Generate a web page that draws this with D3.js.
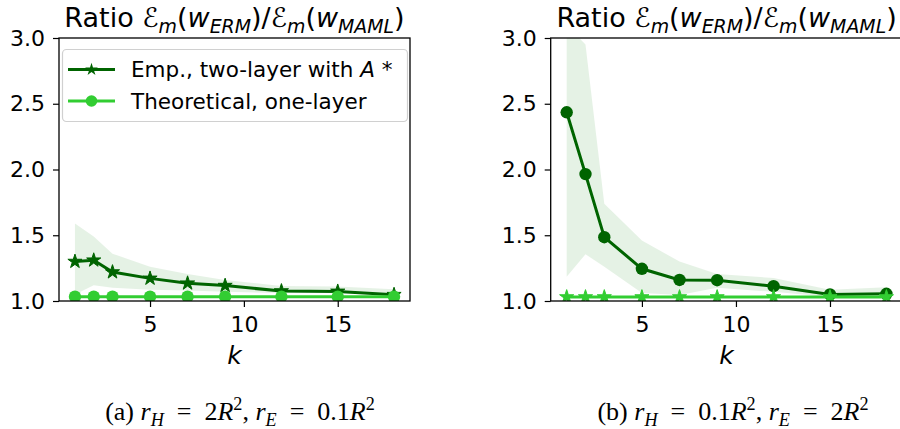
<!DOCTYPE html>
<html>
<head>
<meta charset="utf-8">
<script src="https://cdn.jsdelivr.net/npm/d3@7"></script>
<style>
  body { margin: 0; background: #fff; }
  svg { display: block; font-family: "DejaVu Sans", sans-serif; }
</style>
</head>
<body>
<svg id="chart" width="900" height="429"></svg>
<script>
// k values shared by both panels
const kVals = [1, 2, 3, 5, 7, 9, 12, 15, 18];

// panel (a): r_H = 2R^2, r_E = 0.1R^2
const empA = [1.30, 1.31, 1.22, 1.172, 1.135, 1.117, 1.076, 1.073, 1.048];
const upperA = [1.59, 1.49, 1.36, 1.26, 1.205, 1.16, 1.115, 1.11, 1.09];
const lowerA = [1.05, 1.12, 1.10, 1.085, 1.08, 1.07, 1.06, 1.06, 1.045];
const theoryA = [1.033, 1.033, 1.033, 1.033, 1.033, 1.033, 1.033, 1.033, 1.033];

// panel (b): r_H = 0.1R^2, r_E = 2R^2
const empB = [2.435, 1.965, 1.485, 1.245, 1.16, 1.158, 1.113, 1.05, 1.055];
const upperB = [3.1, 2.95, 1.74, 1.46, 1.30, 1.205, 1.175, 1.085, 1.105];
const lowerB = [1.185, 1.355, 1.26, 1.06, 1.045, 1.10, 1.07, 1.03, 1.03];
const theoryB = [1.03, 1.03, 1.03, 1.03, 1.03, 1.03, 1.03, 1.03, 1.03];

const xTicks = [5, 10, 15];
const yTicks = [1.0, 1.5, 2.0, 2.5, 3.0];
const legendLabels = ['Emp., two-layer with ', 'Theoretical, one-layer'];

const DARK = '#006400';
const LIME = '#32cd32';

const svg = d3.select('#chart');

// draws a run of text pieces: [text, kind] with kind n | i | sub | sup
function mathText(g, x, y, parts, size, family, anchor) {
  const t = g.append('text')
    .attr('x', x).attr('y', y)
    .attr('font-size', size)
    .attr('font-family', family)
    .attr('text-anchor', anchor || 'middle')
    .attr('fill', '#000')
    .style('white-space', 'pre');
  let shift = 0;
  for (const [s, kind] of parts) {
    const target = kind === 'sub' ? size * 0.22 : kind === 'sup' ? -size * 0.38 : 0;
    const sp = t.append('tspan')
      .attr('dy', target - shift)
      .text(s);
    shift = target;
    if (kind !== 'n') sp.attr('font-style', 'italic');
    if (kind === 'sup') sp.attr('font-style', null);
    if (kind === 'sub' || kind === 'sup') sp.attr('font-size', size * 0.7);
  }
  return t;
}

const titleParts = [
  ['Ratio ', 'n'], ['ℰ', 'i'], ['m', 'sub'], ['(', 'n'], ['w', 'i'], ['ERM', 'sub'],
  [')/', 'n'], ['ℰ', 'i'], ['m', 'sub'], ['(', 'n'], ['w', 'i'], ['MAML', 'sub'], [')', 'n']
];

const EQ = '\u2002=\u2002';

function panel(opts) {
  const { left, right, top, bottom, emp, upper, lower, theory, empStar, caption, legend } = opts;
  const g = svg.append('g');
  const x = d3.scaleLinear().domain([0.15, 18.85]).range([left, right]);
  const y = d3.scaleLinear().domain([1.0, 3.0]).range([bottom, top]);

  const clipId = 'clip' + Math.round(left);
  g.append('clipPath').attr('id', clipId)
    .append('rect')
    .attr('x', left).attr('y', top)
    .attr('width', right - left).attr('height', bottom - top);

  const plot = g.append('g').attr('clip-path', `url(#${clipId})`);

  const rows = kVals.map((k, i) => ({ k, emp: emp[i], lo: lower[i], hi: upper[i], th: theory[i] }));

  plot.append('path')
    .datum(rows)
    .attr('fill', 'green')
    .attr('fill-opacity', 0.1)
    .attr('d', d3.area().x(d => x(d.k)).y0(d => y(d.lo)).y1(d => y(d.hi)));

  const star = d3.symbol().type(d3.symbolStar).size(62);

  const drawSeries = (key, color, isStar) => {
    plot.append('path')
      .datum(rows)
      .attr('fill', 'none')
      .attr('stroke', color)
      .attr('stroke-width', 3)
      .attr('d', d3.line().x(d => x(d.k)).y(d => y(d[key])));
    if (isStar) {
      plot.append('g').selectAll('path')
        .data(rows).join('path')
        .attr('d', star)
        .attr('transform', d => `translate(${x(d.k)},${y(d[key])})`)
        .attr('fill', color)
        .attr('stroke', color)
        .attr('stroke-width', 1);
    } else {
      plot.append('g').selectAll('circle')
        .data(rows).join('circle')
        .attr('cx', d => x(d.k))
        .attr('cy', d => y(d[key]))
        .attr('r', 6.2)
        .attr('fill', color);
    }
  };
  drawSeries('emp', DARK, empStar);
  drawSeries('th', LIME, !empStar);

  // axes
  const xAxis = g.append('g')
    .attr('transform', `translate(0,${bottom})`)
    .call(d3.axisBottom(x).tickValues(xTicks).tickFormat(d3.format('d')).tickSize(6).tickPadding(9));
  const yAxis = g.append('g')
    .attr('transform', `translate(${left},0)`)
    .call(d3.axisLeft(y).tickValues(yTicks).tickFormat(d3.format('.1f')).tickSize(6).tickPadding(8));
  for (const a of [xAxis, yAxis]) {
    a.select('.domain').remove();
    a.selectAll('line').attr('stroke', '#000').attr('stroke-width', 1.2);
    a.selectAll('text').attr('font-size', 22).attr('fill', '#000')
      .attr('font-family', '"DejaVu Sans", sans-serif');
  }

  g.append('rect')
    .attr('x', left).attr('y', top)
    .attr('width', right - left).attr('height', bottom - top)
    .attr('fill', 'none')
    .attr('stroke', '#000')
    .attr('stroke-width', 1.3);

  const cx = (left + right) / 2;
  mathText(g, cx, 27, titleParts, 27, '"DejaVu Sans", sans-serif');

  g.append('text')
    .attr('x', cx).attr('y', 364)
    .attr('text-anchor', 'middle')
    .attr('font-size', 25)
    .attr('font-style', 'italic')
    .text('k');

  mathText(g, opts.capX, 420, caption, 26, '"Liberation Serif", serif');

  if (legend) {
    const lg = g.append('g');
    lg.append('rect')
      .attr('x', 62.5).attr('y', 49.5)
      .attr('width', 345).attr('height', 72)
      .attr('rx', 4)
      .attr('fill', '#fff').attr('fill-opacity', 0.8)
      .attr('stroke', '#d0d0d0').attr('stroke-width', 1.2);
    const items = [
      { color: DARK, star: true, label: legendLabels[0], y: 69.5 },
      { color: LIME, star: false, label: legendLabels[1], y: 101 }
    ];
    for (const it of items) {
      lg.append('line')
        .attr('x1', 68).attr('x2', 115)
        .attr('y1', it.y).attr('y2', it.y)
        .attr('stroke', it.color).attr('stroke-width', 3);
      if (it.star) {
        lg.append('path').attr('d', d3.symbol().type(d3.symbolStar).size(50)())
          .attr('transform', `translate(91.5,${it.y})`)
          .attr('fill', it.color);
      } else {
        lg.append('circle').attr('cx', 91.5).attr('cy', it.y).attr('r', 5.8).attr('fill', it.color);
      }
      const t = lg.append('text')
        .attr('x', 131).attr('y', it.y + 7.8)
        .attr('font-size', 21.5)
        .style('white-space', 'pre')
        .text(it.label);
      if (it.star) {
        t.append('tspan').attr('font-style', 'italic').text('A');
        t.append('tspan').text(' *');
      }
    }
  }
}

panel({
  left: 59, right: 410, top: 38, bottom: 301,
  emp: empA, upper: upperA, lower: lowerA, theory: theoryA,
  empStar: true, legend: true, capX: 240,
  caption: [['(a) ', 'n'], ['r', 'i'], ['H', 'sub'], [EQ + '2', 'n'], ['R', 'i'], ['2', 'sup'],
            [', ', 'n'], ['r', 'i'], ['E', 'sub'], [EQ + '0.1', 'n'], ['R', 'i'], ['2', 'sup']]
});

panel({
  left: 550.7, right: 902.4, top: 38, bottom: 301,
  emp: empB, upper: upperB, lower: lowerB, theory: theoryB,
  empStar: false, legend: false, capX: 733,
  caption: [['(b) ', 'n'], ['r', 'i'], ['H', 'sub'], [EQ + '0.1', 'n'], ['R', 'i'], ['2', 'sup'],
            [', ', 'n'], ['r', 'i'], ['E', 'sub'], [EQ + '2', 'n'], ['R', 'i'], ['2', 'sup']]
});
</script>
</body>
</html>
